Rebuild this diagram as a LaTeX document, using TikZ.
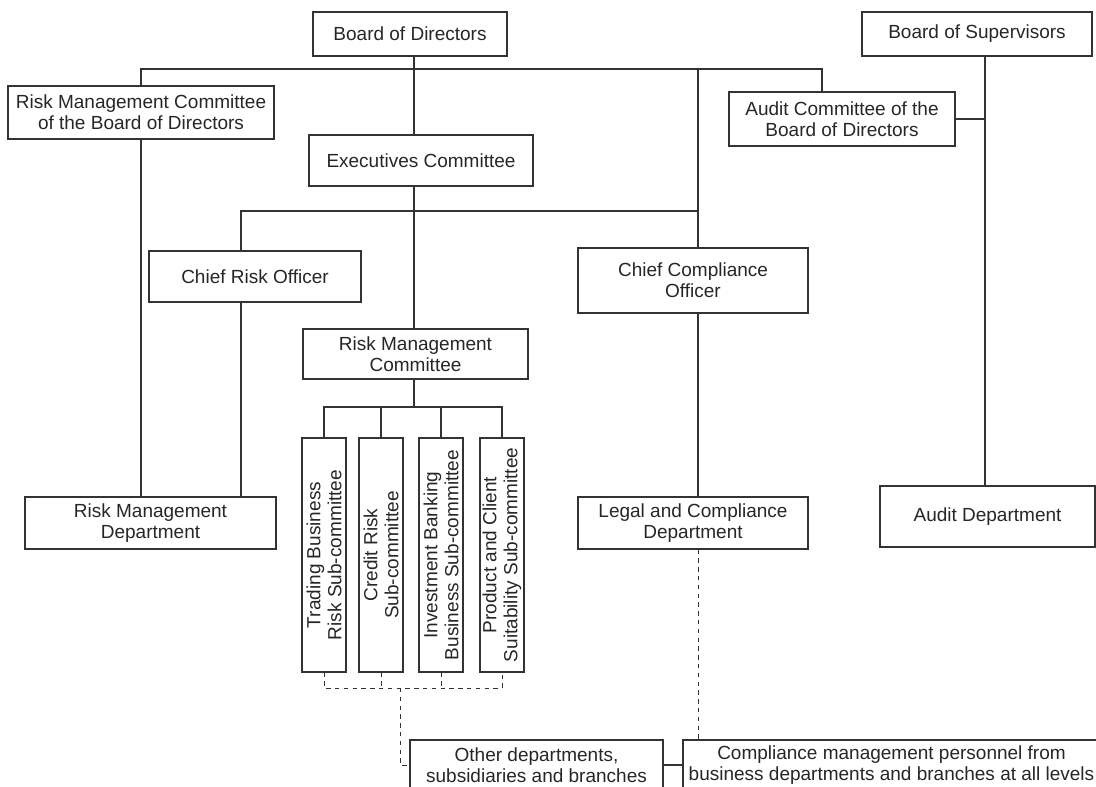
\documentclass[tikz,border=0pt]{standalone}
\usepackage{fontspec}
\setmainfont{Liberation Sans}
\begin{document}
\begin{tikzpicture}[x=0.5pt,y=-0.5pt,
  box/.style={draw=black!80, line width=0.55pt, inner sep=0pt, align=center,
    font=\fontsize{9.5}{10.5}\selectfont, text=black!85},
  vbox/.style={box, rotate=90, minimum width=117pt, minimum height=22pt},
  ln/.style={draw=black!80, line width=0.55pt},
  dl/.style={draw=black!80, line width=0.5pt, dash pattern=on 2.2pt off 2.2pt}]
\useasboundingbox (0,0) rectangle (1096,786);
\clip (0,0) rectangle (1096,786);
% boxes
\node[box, minimum width=97pt, minimum height=22pt] (bod) at (410,34) {Board of Directors};
\node[box, minimum width=115pt, minimum height=22pt] (bos) at (977,34) {Board of Supervisors};
\node[box, minimum width=133pt, minimum height=26.5pt] (rmcb) at (141,112.5) {Risk Management Committee\\of the Board of Directors};
\node[box, minimum width=112pt, minimum height=25.5pt] (exec) at (421,160.5) {Executives Committee};
\node[box, minimum width=113pt, minimum height=27pt] (audc) at (842,119) {Audit Committee of the\\Board of Directors};
\node[box, minimum width=106pt, minimum height=25.5pt] (cro) at (255,276.5) {Chief Risk Officer};
\node[box, minimum width=115pt, minimum height=32.5pt] (cco) at (693,280.5) {Chief Compliance\\Officer};
\node[box, minimum width=112.5pt, minimum height=25pt] (rmc) at (415.5,354) {Risk Management\\Committee};
\node[box, minimum width=125.5pt, minimum height=26pt] (rmd) at (150.5,523) {Risk Management\\Department};
\node[box, minimum width=115pt, minimum height=26pt] (lcd) at (693,523) {Legal and Compliance\\Department};
\node[box, minimum width=107.5pt, minimum height=30.5pt] (aud) at (987.5,516.5) {Audit Department};
\node[vbox] (sc1) at (324,555) {Trading Business\\Risk Sub-committee};
\node[vbox] (sc2) at (381,555) {Credit Risk\\Sub-committee};
\node[vbox] (sc3) at (441,555) {Investment Banking\\Business Sub-committee};
\node[vbox] (sc4) at (502,555) {Product and Client\\Suitability Sub-committee};
\node[box, minimum width=126.5pt, minimum height=25pt] (other) at (536.5,765) {Other departments,\\subsidiaries and branches};
\node[box, minimum width=208.5pt, minimum height=25pt] (cmp) at (891.5,765) {Compliance management personnel from\\business departments and branches at all levels};
% helper coordinates
\coordinate (t) at (414,69);
\coordinate (cA) at (822,69);
\coordinate (cB) at (698,69);
\coordinate (cC) at (241,211);
\coordinate (cD) at (985,0);
\coordinate (cE) at (414,407);
\coordinate (cF) at (400,688);
% solid connectors
\draw[ln] (bod.south -| t) -- (exec.north -| t);
\draw[ln] (rmcb.north) |- (cA) -- (cA |- audc.north);
\draw[ln] (cB) -- (cB |- cco.north);
\draw[ln] (exec.south -| t) -- (rmc.north -| t);
\draw[ln] (cro.north -| cC) -- (cC) -- (cC -| cB);
\draw[ln] (rmcb.south) -- (rmd.north -| rmcb.south);
\draw[ln] (cro.south -| cC) -- (rmd.north -| cC);
\draw[ln] (cco.south -| cB) -- (lcd.north -| cB);
\draw[ln] (bos.south -| cD) -- (aud.north -| cD);
\draw[ln] (audc.east) -- (audc.east -| cD);
\draw[ln] (rmc.south -| t) -- (cE);
\draw[ln] (sc1.east) |- (sc4.east |- cE) -- (sc4.east);
\draw[ln] (sc2.east) -- (sc2.east |- cE);
\draw[ln] (sc3.east) -- (sc3.east |- cE);
\draw[ln] (other.east) -- (cmp.west);
% dashed connectors
\draw[dl] (sc1.west) -- (sc1.west |- cF) -- (sc4.west |- cF) -- (sc4.west);
\draw[dl] (sc2.west) -- (sc2.west |- cF);
\draw[dl] (sc3.west) -- (sc3.west |- cF);
\draw[dl] (cF) |- (other.west);
\draw[dl] (lcd.south -| cB) -- (cmp.north -| cB);
\end{tikzpicture}
\end{document}
